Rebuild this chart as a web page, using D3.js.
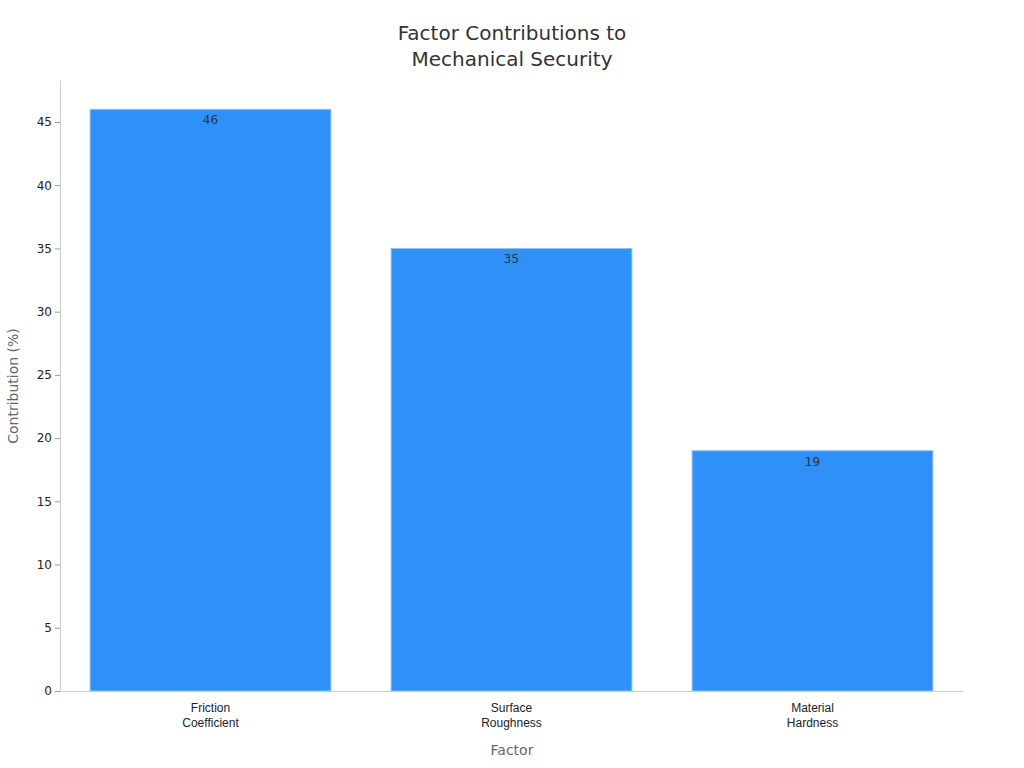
<!DOCTYPE html>
<html><head><meta charset="utf-8">
<script src="https://cdn.jsdelivr.net/npm/d3@7"></script>
<style>body{margin:0;background:#fff;font-family:"DejaVu Sans",sans-serif}</style>
</head><body><svg id="c" width="1024" height="768"></svg>
<script>
const categories = [["Friction","Coefficient"],["Surface","Roughness"],["Material","Hardness"]];
const values = [46, 35, 19];
const yTicks = [0,5,10,15,20,25,30,35,40,45];

const svg = d3.select("#c");
const m = {l:60, r:963, t:80, b:691};
const x = d3.scaleBand().domain(d3.range(values.length)).range([m.l, m.r]).paddingInner(0.2).paddingOuter(0.1);
const y = d3.scaleLinear().domain([0, 48.32]).range([m.b, m.t]);

svg.append("text").attr("x",512).attr("y",40).attr("text-anchor","middle").attr("font-size",20).attr("fill","#333").text("Factor Contributions to");
svg.append("text").attr("x",512).attr("y",66).attr("text-anchor","middle").attr("font-size",20).attr("fill","#333").text("Mechanical Security");

svg.selectAll("rect.bar").data(values).enter().append("rect")
  .attr("x",(d,i)=>x(i)).attr("width",x.bandwidth())
  .attr("y",d=>y(d)).attr("height",d=>y(0)-y(d))
  .attr("fill","#2f91f7").attr("stroke","#8cc2fa").attr("stroke-width",1);
svg.selectAll("text.val").data(values).enter().append("text")
  .attr("x",(d,i)=>x(i)+x.bandwidth()/2).attr("y",d=>y(d)+15)
  .attr("text-anchor","middle").attr("font-size",12).attr("fill","#333").text(d=>d);

const ya = svg.append("g").attr("transform",`translate(${m.l},0)`)
  .call(d3.axisLeft(y).tickValues(yTicks).tickSize(5).tickSizeOuter(0));
ya.select(".domain").attr("stroke","#ccc");
ya.selectAll(".tick line").attr("stroke","#999");
ya.selectAll(".tick text").attr("font-size",12).attr("fill","#222").attr("font-family","DejaVu Sans");

const xa = svg.append("g").attr("transform",`translate(0,${m.b})`)
  .call(d3.axisBottom(x).tickSize(0).tickSizeOuter(0).tickFormat(""));
xa.select(".domain").attr("stroke","#ccc");
xa.selectAll(".tick").each(function(d){
  const t = d3.select(this).append("text").attr("fill","#222").attr("font-size",12).attr("text-anchor","middle");
  categories[d].forEach((s,k)=>t.append("tspan").attr("x",0).attr("y",21+k*15).text(s));
});

svg.append("text").attr("x",512).attr("y",755).attr("text-anchor","middle").attr("font-size",14).attr("fill","#666").text("Factor");
svg.append("text").attr("transform","translate(18,386) rotate(-90)").attr("text-anchor","middle").attr("font-size",14).attr("fill","#666").text("Contribution (%)");
</script></body></html>
